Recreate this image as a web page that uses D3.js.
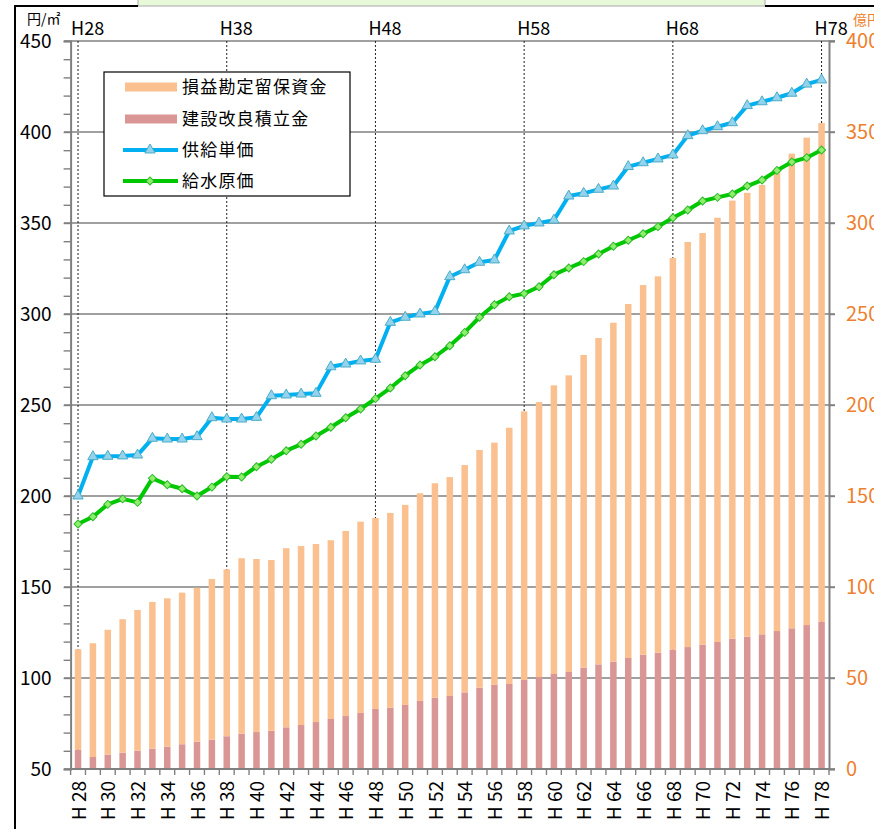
<!DOCTYPE html>
<html><head><meta charset="utf-8">
<script src="https://cdn.jsdelivr.net/npm/d3@7"></script>
<style>
body{margin:0;background:#fff}
svg{display:block}
text{font-family:'Noto Sans CJK JP','Noto Sans',sans-serif}
</style>
</head><body>
<svg id="chart" width="874" height="829"></svg>
<script>
// ---- data ----
const categories = d3.range(28, 79).map(n => "H" + n);
const topLabels = ["H28", "H38", "H48", "H58", "H68", "H78"];
const leftTicks = [50, 100, 150, 200, 250, 300, 350, 400, 450];
const rightTicks = [0, 50, 100, 150, 200, 250, 300, 350, 400];
// 建設改良積立金 (億円)
const reserveFund = [
  10.6,6.6,7.9,9.0,10.1,11.2,12.3,13.6,15.0,16.1,
  18.0,19.4,20.3,21.0,22.9,24.2,25.8,27.5,29.1,30.8,
  33.0,33.7,35.2,37.4,39.2,40.1,42.1,44.7,46.2,46.7,
  48.9,50.5,52.2,53.3,55.7,57.5,59.0,61.0,62.8,63.9,
  65.5,67.0,68.3,69.8,71.6,72.7,74.0,75.8,77.3,79.1,
  80.9];
// 損益勘定留保資金 (億円, stacked on top)
const retainedFund = [
  55.2,62.5,68.6,73.3,77.3,80.6,81.5,83.3,84.6,88.3,
  91.7,96.4,95.1,93.8,98.4,98.3,97.8,98.2,101.7,105.1,
  104.9,107.0,109.9,114.1,117.8,120.3,124.9,130.6,133.1,140.8,
  147.6,151.1,158.6,163.0,171.8,179.3,186.2,194.5,203.1,206.8,
  215.3,222.6,226.2,233.1,240.7,243.9,246.9,252.8,260.8,267.8,
  274.0];
// 供給単価 (円/㎡)
const supplyPrice = [
  200.0,221.6,221.8,222.0,222.5,231.7,231.3,231.3,232.6,243.0,
  242.3,242.3,243.2,255.1,255.5,256.0,256.4,271.0,272.5,274.2,
  275.1,295.4,298.2,300.0,301.3,320.5,324.3,328.4,329.7,345.6,
  348.4,350.0,351.6,364.8,366.3,368.5,370.3,381.0,383.1,385.2,
  387.4,398.0,400.7,402.9,405.1,414.5,416.6,418.8,421.3,426.3,
  428.6];
// 給水原価 (円/㎡)
const waterCost = [
  184.6,188.6,195.4,198.4,196.5,209.7,206.2,204.0,200.0,204.9,
  210.6,210.4,216.1,220.2,224.9,228.4,233.0,237.8,243.0,247.8,
  253.5,259.3,266.1,272.0,276.5,282.6,289.9,298.2,305.1,309.5,
  311.2,315.0,321.6,325.3,328.8,333.0,337.2,340.5,344.1,348.0,
  352.9,357.1,362.1,364.1,365.9,370.3,373.6,378.9,383.5,385.9,
  390.1];
const seriesNames = ["損益勘定留保資金", "建設改良積立金", "供給単価", "給水原価"];

// ---- styles ----
const C = {
  retained: "#FAC090", reserve: "#D99694",
  blue: "#00B0F0", blueMarker: "#93D3EE", blueMarkerStroke: "#4BACC6",
  green: "#00C800", greenMarker: "#8EF06A", greenMarkerStroke: "#2DB82D",
  grid: "#808080", orange: "#EE7F2D"
};

const svg = d3.select("#chart");
const L = 70.6, R = 829, T = 41, B = 769;

const x = d3.scaleBand().domain(categories).range([L, R]).padding(0);
const yL = d3.scaleLinear().domain([50, 450]).range([B, T]);
const yR = d3.scaleLinear().domain([0, 400]).range([B, T]);
const cx = c => x(c) + x.bandwidth() / 2;
const bw = 6.5;

// outer frame + top box fragment
svg.append("rect").attr("x", 138).attr("y", -2).attr("width", 627).attr("height", 8)
  .attr("fill", "#E8F9D9").attr("stroke", "#A8A8A8").attr("stroke-width", 1);
svg.append("line").attr("x1", 14).attr("x2", 138).attr("y1", 6).attr("y2", 6).attr("stroke", "#000").attr("stroke-width", 2);
svg.append("line").attr("x1", 765).attr("x2", 874).attr("y1", 6).attr("y2", 6).attr("stroke", "#000").attr("stroke-width", 2);
svg.append("line").attr("x1", 15).attr("x2", 15).attr("y1", 5).attr("y2", 829).attr("stroke", "#000").attr("stroke-width", 2);

// gridlines
svg.append("g").selectAll("line").data(leftTicks).join("line")
  .attr("x1", 64).attr("x2", 835)
  .attr("y1", d => yL(d)).attr("y2", d => yL(d))
  .attr("stroke", C.grid).attr("stroke-width", 1.6);

// dashed marker lines
svg.append("g").selectAll("line").data(topLabels).join("line")
  .attr("x1", d => cx(d)).attr("x2", d => cx(d))
  .attr("y1", T).attr("y2", B)
  .attr("stroke", "#222").attr("stroke-width", 1).attr("stroke-dasharray", "2,2");

// stacked bars
const rows = categories.map((c, i) => ({cat: c, reserve: reserveFund[i], retained: retainedFund[i]}));
const stack = d3.stack().keys(["reserve", "retained"])(rows);
const barColor = {reserve: C.reserve, retained: C.retained};
svg.append("g").selectAll("g").data(stack).join("g")
  .attr("fill", d => barColor[d.key])
  .selectAll("rect").data(d => d).join("rect")
  .attr("x", d => cx(d.data.cat) - bw / 2)
  .attr("width", bw)
  .attr("y", d => yR(d[1]))
  .attr("height", d => yR(d[0]) - yR(d[1]));

// left axis
const axL = svg.append("g").attr("transform", `translate(${L},0)`)
  .call(d3.axisLeft(yL).tickValues(d3.range(50, 451, 10)).tickSize(7).tickPadding(12)
    .tickFormat(d => d % 50 === 0 ? d : ""));
axL.select(".domain").attr("stroke", C.grid).attr("stroke-width", 2);
axL.selectAll(".tick line").attr("stroke", C.grid).attr("stroke-width", 1.4);
axL.selectAll("text").attr("fill", "#000").style("font-size", "19px")
  .style("font-family", "'Noto Sans CJK JP','Noto Sans',sans-serif");

// right axis
const axR = svg.append("g").attr("transform", `translate(${R},0)`)
  .call(d3.axisRight(yR).tickValues(rightTicks).tickSize(6).tickPadding(11));
axR.select(".domain").attr("stroke", C.grid).attr("stroke-width", 2);
axR.selectAll(".tick line").attr("stroke", C.grid).attr("stroke-width", 1.4);
axR.selectAll("text").attr("fill", C.orange).style("font-size", "20px")
  .style("font-family", "'Noto Sans CJK JP','Noto Sans',sans-serif");

// bottom axis
svg.append("line").attr("x1", L).attr("x2", R).attr("y1", B).attr("y2", B)
  .attr("stroke", C.grid).attr("stroke-width", 2);
svg.append("g").selectAll("line").data(categories.map(c => x(c)).concat([R])).join("line")
  .attr("x1", d => d).attr("x2", d => d).attr("y1", B).attr("y2", B + 6)
  .attr("stroke", C.grid).attr("stroke-width", 1.4);
svg.append("g").selectAll("text").data(categories.filter((c, i) => i % 2 === 0)).join("text")
  .attr("transform", d => `translate(${cx(d) + 1},781) rotate(-90)`)
  .attr("text-anchor", "end").attr("dy", "0.35em")
  .style("font-size", "19px").attr("fill", "#000")
  .text(d => d.replace("H", "H "));

// top labels
svg.append("g").selectAll("text").data(topLabels).join("text")
  .attr("x", d => cx(d) - 7).attr("y", 35)
  .style("font-size", "18px").attr("fill", "#000")
  .text(d => d);

// unit labels
svg.append("text").attr("x", 27).attr("y", 24).style("font-size", "14px").text("円/㎡");
svg.append("text").attr("x", 853).attr("y", 25).style("font-size", "14px").attr("fill", C.orange).text("億円");

// lines
function drawLine(values, color, markerFill, markerStroke, symbol, rot) {
  const line = d3.line().x((d, i) => cx(categories[i])).y(d => yL(d));
  svg.append("path").datum(values).attr("d", line)
    .attr("fill", "none").attr("stroke", color).attr("stroke-width", 4).attr("stroke-linejoin", "round");
  svg.append("g").selectAll("path").data(values).join("path")
    .attr("d", symbol)
    .attr("transform", (d, i) => `translate(${cx(categories[i])},${yL(d)}) rotate(${rot})`)
    .attr("fill", markerFill).attr("stroke", markerStroke).attr("stroke-width", 1);
}
const tri = d3.symbol(d3.symbolTriangle, 46)();
const dia = d3.symbol(d3.symbolSquare, 32)();
drawLine(supplyPrice, C.blue, C.blueMarker, C.blueMarkerStroke, tri, 0);
drawLine(waterCost, C.green, C.greenMarker, C.greenMarkerStroke, dia, 45);

// legend
const lg = svg.append("g");
lg.append("rect").attr("x", 104).attr("y", 72).attr("width", 246).attr("height", 124)
  .attr("fill", "#fff").attr("stroke", "#000").attr("stroke-width", 1.2);
const legendRows = [87, 119, 150, 181];
const lgItems = [
  {name: seriesNames[0], type: "bar", color: C.retained},
  {name: seriesNames[1], type: "bar", color: C.reserve},
  {name: seriesNames[2], type: "line", color: C.blue, mf: C.blueMarker, ms: C.blueMarkerStroke, sym: tri, rot: 0},
  {name: seriesNames[3], type: "line", color: C.green, mf: C.greenMarker, ms: C.greenMarkerStroke, sym: dia, rot: 45}
];
lgItems.forEach((it, i) => {
  const yy = legendRows[i];
  if (it.type === "bar") {
    lg.append("rect").attr("x", 125).attr("y", yy - 4.5).attr("width", 52).attr("height", 9).attr("fill", it.color);
  } else {
    lg.append("line").attr("x1", 123).attr("x2", 178).attr("y1", yy).attr("y2", yy)
      .attr("stroke", it.color).attr("stroke-width", 4);
    lg.append("path").attr("d", it.sym).attr("transform", `translate(150,${yy}) rotate(${it.rot})`)
      .attr("fill", it.mf).attr("stroke", it.ms).attr("stroke-width", 1);
  }
  lg.append("text").attr("x", 182).attr("y", yy).attr("dy", "0.36em")
    .style("font-size", "17px").style("letter-spacing", "1.2px").text(it.name);
});
</script>
</body></html>
